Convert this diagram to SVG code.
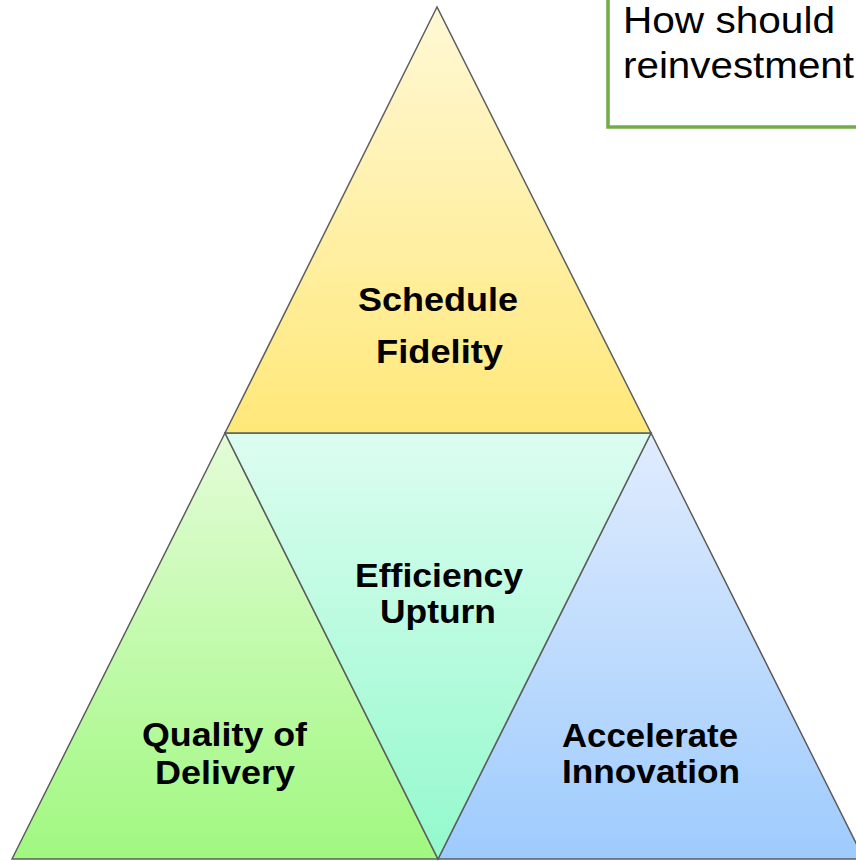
<svg xmlns="http://www.w3.org/2000/svg" width="856" height="861" viewBox="0 0 856 861">
<defs>
<linearGradient id="gTop" x1="0" y1="0" x2="0" y2="1"><stop offset="0" stop-color="#fff8d6"/><stop offset="1" stop-color="#ffe879"/></linearGradient>
<linearGradient id="gMid" x1="0" y1="0" x2="0" y2="1"><stop offset="0" stop-color="#dcfdf0"/><stop offset="1" stop-color="#93f9cc"/></linearGradient>
<linearGradient id="gLeft" x1="0" y1="0" x2="0" y2="1"><stop offset="0" stop-color="#e4fcd8"/><stop offset="1" stop-color="#a0f880"/></linearGradient>
<linearGradient id="gRight" x1="0" y1="0" x2="0" y2="1"><stop offset="0" stop-color="#e0ecfe"/><stop offset="1" stop-color="#9ecbfd"/></linearGradient>
</defs>
<style>
.tri{stroke:#5e5e5e;stroke-width:1.5;stroke-linejoin:miter}
.lbl{font-family:"Liberation Sans",Arial,sans-serif;font-weight:bold;font-size:33px;fill:#000;text-anchor:middle}
.note{font-family:"Liberation Sans",Arial,sans-serif;font-size:36px;fill:#000}
</style>
<g id="quality">
<polygon class="tri" points="225,433 12,859 438,859" fill="url(#gLeft)"/>
<text class="lbl" x="224.5" y="746" textLength="165" lengthAdjust="spacingAndGlyphs">Quality of</text>
<text class="lbl" x="225" y="784" textLength="140" lengthAdjust="spacingAndGlyphs">Delivery</text>
</g>
<g id="innovation">
<polygon class="tri" points="651,433 438,859 864,859" fill="url(#gRight)"/>
<text class="lbl" x="650" y="746.5" textLength="176" lengthAdjust="spacingAndGlyphs">Accelerate</text>
<text class="lbl" x="651" y="783" textLength="178" lengthAdjust="spacingAndGlyphs">Innovation</text>
</g>
<g id="efficiency">
<polygon class="tri" points="225,433 651,433 438,859" fill="url(#gMid)"/>
<text class="lbl" x="439" y="587" textLength="168" lengthAdjust="spacingAndGlyphs">Efficiency</text>
<text class="lbl" x="438" y="623" textLength="116" lengthAdjust="spacingAndGlyphs">Upturn</text>
</g>
<g id="schedule">
<polygon class="tri" points="437,7 225,433 651,433" fill="url(#gTop)"/>
<text class="lbl" x="438" y="311" textLength="160" lengthAdjust="spacingAndGlyphs">Schedule</text>
<text class="lbl" x="439.5" y="363" textLength="127" lengthAdjust="spacingAndGlyphs">Fidelity</text>
</g>
<g id="note">
<rect x="608" y="-10" width="300" height="137" fill="#ffffff" stroke="#70ad47" stroke-width="3.5"/>
<text class="note" x="623" y="33" textLength="212" lengthAdjust="spacingAndGlyphs">How should</text>
<text class="note" x="623" y="78" textLength="231" lengthAdjust="spacingAndGlyphs">reinvestment</text>
</g>
</svg>
